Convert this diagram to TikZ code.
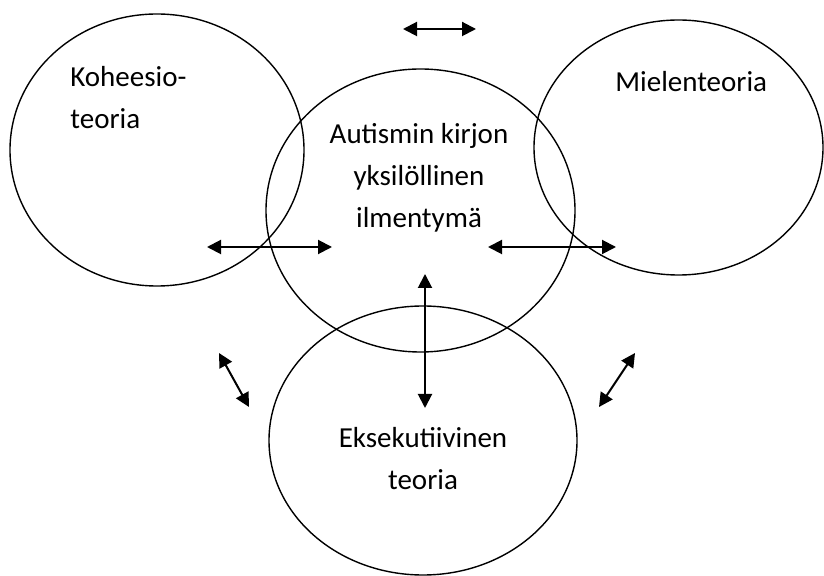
\documentclass[tikz,border=0pt]{standalone}
\usepackage{fontspec}
\setmainfont{Carlito}
\usetikzlibrary{shapes.geometric,arrows.meta}
\begin{document}
\begin{tikzpicture}[x=0.5pt,y=-0.5pt]
    \tikzstyle{theory} = [draw, shape=ellipse, inner sep=0pt, line width=0.7pt]
    \tikzstyle{term} = [inner sep=0pt, font=\fontsize{14.5}{21}\selectfont]
    \tikzstyle{link} = [{Triangle[length=7pt,width=7pt]}-{Triangle[length=7pt,width=7pt]}, line width=1pt]

    \useasboundingbox (0,0) rectangle (824,576);

    \node [theory, minimum width=147pt, minimum height=136pt] at (157,150) (koh) {};
    \node [theory, minimum width=154.5pt, minimum height=141.5pt] at (420.5,210.5) (aut) {};
    \node [theory, minimum width=144.5pt, minimum height=127.5pt] at (678.5,147.5) (miel) {};
    \node [theory, minimum width=154pt, minimum height=134.5pt] at (423,440.5) (eks) {};

    \node [term, align=left, anchor=base west] at (70,129) (kohtext) {Koheesio-\\teoria};
    \node [term, anchor=base west] at (615,92) (mieltext) {Mielenteoria};
    \node [term, align=center, anchor=base] at (419,228) (auttext) {Autismin kirjon\\yksilöllinen\\ilmentymä};
    \node [term, align=center, anchor=base] at (423,490) (ekstext) {Eksekutiivinen\\teoria};

    \coordinate (top1) at (403,29);
    \coordinate (top2) at (476,29);
    \coordinate (left1) at (207,247);
    \coordinate (left2) at (332,247);
    \coordinate (right1) at (488,247);
    \coordinate (right2) at (616,247);
    \coordinate (mid1) at (425,274);
    \coordinate (mid2) at (425,408);
    \coordinate (diagl1) at (219,353);
    \coordinate (diagl2) at (249,407);
    \coordinate (diagr1) at (635,353);
    \coordinate (diagr2) at (599,407);

    \begin{scope}[link]
    \draw (top1) -- (top2);
    \draw (left1) -- (left2);
    \draw (right1) -- (right2);
    \draw (mid1) -- (mid2);
    \draw (diagl1) -- (diagl2);
    \draw (diagr1) -- (diagr2);
    \end{scope}
\end{tikzpicture}
\end{document}
